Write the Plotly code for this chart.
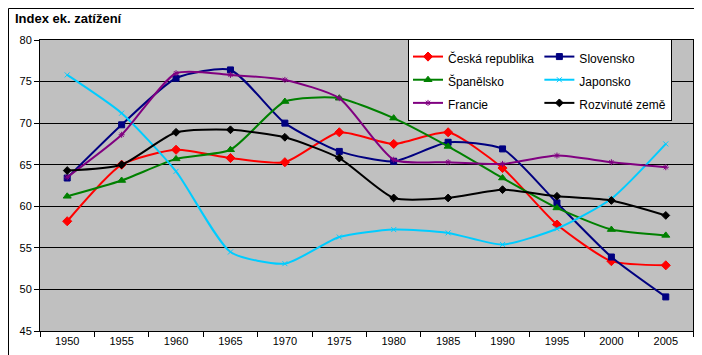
import plotly.graph_objects as go

years = ["1950", "1955", "1960", "1965", "1970", "1975", "1980", "1985", "1990", "1995", "2000", "2005"]

ceska = [58.2, 65.0, 66.8, 65.8, 65.3, 68.9, 67.5, 68.9, 64.6, 57.8, 53.4, 52.9]
slovensko = [63.4, 69.8, 75.4, 76.4, 70.0, 66.6, 65.4, 67.7, 66.9, 60.4, 53.9, 49.1]
spanelsko = [61.2, 63.1, 65.7, 66.8, 72.6, 73.0, 70.6, 67.2, 63.4, 59.8, 57.2, 56.5]
japonsko = [75.8, 71.2, 64.2, 54.5, 53.1, 56.3, 57.2, 56.8, 55.4, 57.3, 60.9, 67.5]
francie = [63.5, 68.6, 76.0, 75.8, 75.2, 73.0, 65.6, 65.3, 65.1, 66.1, 65.3, 64.7]
rozvinute = [64.3, 65.0, 68.9, 69.2, 68.3, 65.8, 61.0, 61.0, 62.0, 61.2, 60.7, 58.9]

series = [
    ("Česká republika", ceska, "#FF0000", "diamond", 7, "a"),
    ("Slovensko", slovensko, "#000080", "square", 6, "b"),
    ("Španělsko", spanelsko, "#008000", "triangle-up", 7, "a"),
    ("Japonsko", japonsko, "#00CCFF", "x-thin", 5, "b"),
    ("Francie", francie, "#800080", "asterisk", 5, "a"),
    ("Rozvinuté země", rozvinute, "#000000", "diamond", 6, "b"),
]

fig = go.Figure()
for name, vals, color, sym, size, grp in series:
    fig.add_trace(go.Scatter(
        x=years, y=vals, name='<span style="font-size:12px">' + name + '</span>',
        mode="lines+markers",
        legendgroup=grp,
        line=dict(color=color, width=2, shape="spline", smoothing=0.6),
        marker=dict(symbol=sym, size=size, color=color,
                    line=dict(color=color, width=1)),
    ))

W, H = 702, 355
ml, mr, mt, mb = 32, 17, 32, 32
pw, ph = W - ml - mr, H - mt - mb

fig.update_layout(
    width=W, height=H,
    margin=dict(l=ml, r=mr, t=mt, b=mb),
    paper_bgcolor="white",
    plot_bgcolor="#C0C0C0",
    font=dict(family="Liberation Sans, Arial, sans-serif", size=11, color="black"),
    title=dict(text="<b>Index ek. zatížení</b>", x=7 / W, xref="container", xanchor="left",
               y=1 - 6 / H, yref="container", yanchor="top",
               font=dict(size=13, color="black")),
    showlegend=True,
    legend=dict(
        orientation="h", traceorder="grouped", tracegroupgap=0,
        x=(400 - ml) / pw, xanchor="left", y=1 - (31 - mt) / ph, yanchor="top",
        bgcolor="white", bordercolor="black", borderwidth=1,
        font=dict(size=15.5, color="black"), itemwidth=30,
    ),
    shapes=[dict(type="rect", xref="paper", yref="paper",
                 x0=-(ml - 0.5) / pw, x1=1 + (mr - 1.5) / pw,
                 y0=-(mb - 1.5) / ph, y1=1 + (mt - 0.5) / ph,
                 line=dict(color="black", width=1), fillcolor="rgba(0,0,0,0)", layer="below")],
)

fig.update_xaxes(
    type="category", tickson="boundaries", ticks="outside", ticklen=5, tickcolor="black",
    showline=True, linecolor="black", linewidth=1, mirror=True,
    showgrid=False, tickfont=dict(size=11), range=[-0.5, 11.5],
)
fig.update_yaxes(
    range=[45, 80], dtick=5, ticks="outside", ticklen=5, tickcolor="black",
    showline=True, linecolor="black", linewidth=1, mirror=True,
    showgrid=True, gridcolor="black", gridwidth=1, zeroline=False,
    tickfont=dict(size=11),
)

fig.write_html("out.html")
